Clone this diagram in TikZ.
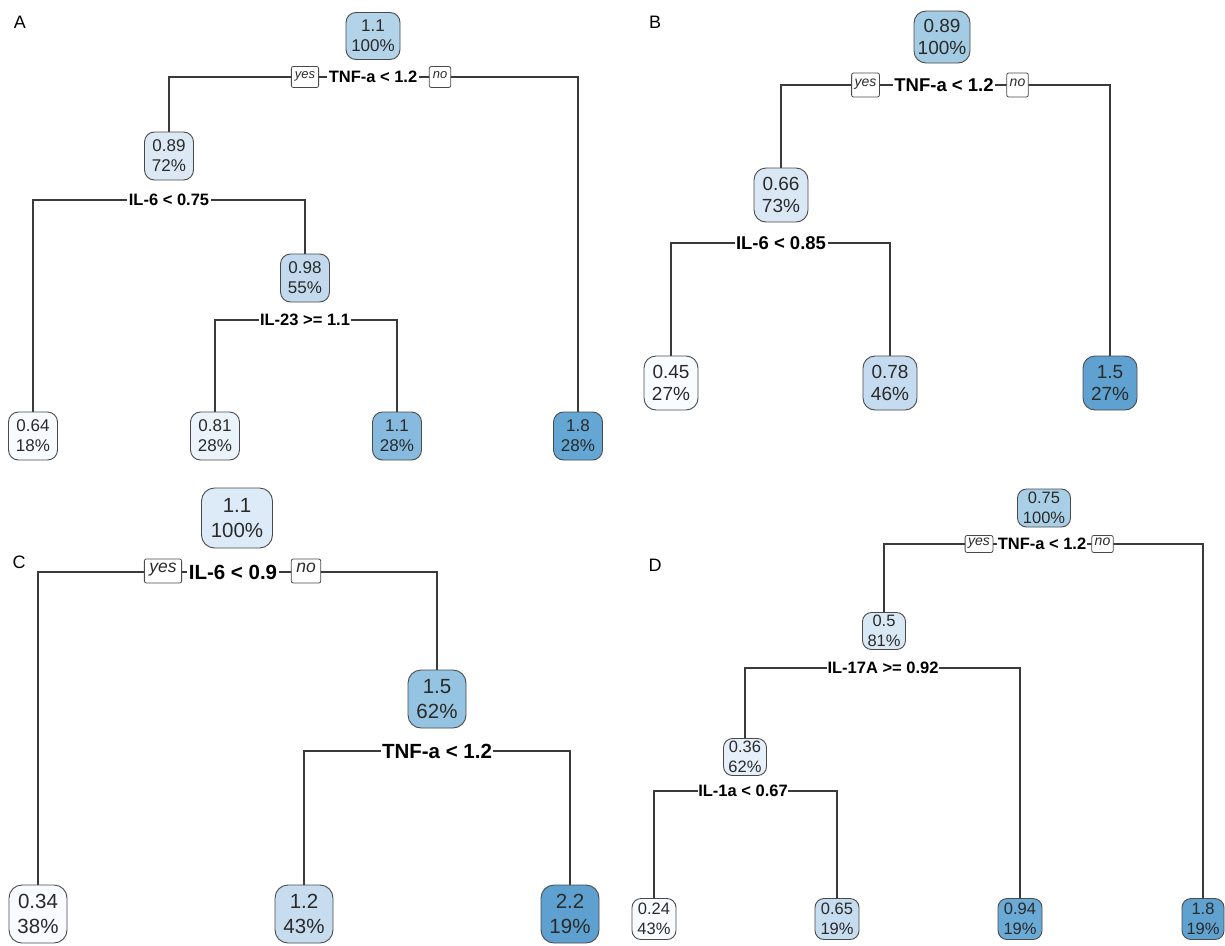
\documentclass[tikz,border=0pt]{standalone}
\usepackage{fontspec}
\setmainfont{Liberation Sans}
\usetikzlibrary{backgrounds}
\definecolor{bordc}{HTML}{4A4A4A}
\definecolor{linec}{HTML}{3A3A3A}
\definecolor{txtc}{HTML}{2A2A2A}
% panel A fills
\definecolor{cA0}{HTML}{B3D3E9}
\definecolor{cA1}{HTML}{DCE9F5}
\definecolor{cA2}{HTML}{C3DAEE}
\definecolor{cA3}{HTML}{F8FBFE}
\definecolor{cA4}{HTML}{EBF3FB}
\definecolor{cA5}{HTML}{86BBDF}
\definecolor{cA6}{HTML}{64A6D4}
% panel B fills
\definecolor{cB0}{HTML}{A3CBE4}
\definecolor{cB1}{HTML}{DAE8F5}
\definecolor{cB2}{HTML}{F9FCFF}
\definecolor{cB3}{HTML}{C5DBEF}
\definecolor{cB4}{HTML}{5FA2D1}
% panel C fills
\definecolor{cC0}{HTML}{DCEBF7}
\definecolor{cC1}{HTML}{94C4E1}
\definecolor{cC2}{HTML}{F8FBFF}
\definecolor{cC3}{HTML}{C7DCEF}
\definecolor{cC4}{HTML}{5EA1D0}
% panel D fills
\definecolor{cD0}{HTML}{A9CFE6}
\definecolor{cD1}{HTML}{D8E8F5}
\definecolor{cD2}{HTML}{E6F0FA}
\definecolor{cD3}{HTML}{F9FCFF}
\definecolor{cD4}{HTML}{C6DCEF}
\definecolor{cD5}{HTML}{6AAAD6}
\definecolor{cD6}{HTML}{5FA2D0}
\tikzset{
  treenode/.style={draw=bordc, line width=0.9pt, align=center, inner sep=0pt, text=txtc},
  nA/.style={treenode, minimum width=49pt, minimum height=48pt, rounded corners=10pt, font=\fontsize{17}{20}\selectfont},
  nB/.style={treenode, minimum width=54pt, minimum height=54pt, rounded corners=12pt, font=\fontsize{19}{22}\selectfont},
  nC/.style={treenode, minimum width=58pt, minimum height=58pt, rounded corners=13pt, font=\fontsize{20.5}{25}\selectfont},
  nD/.style={treenode, minimum width=44pt, minimum height=41pt, rounded corners=9pt, font=\fontsize{16.5}{20}\selectfont},
  splitlab/.style={fill=white, inner xsep=1.5pt, inner ysep=1pt, text=black},
  sA/.style={splitlab, font=\bfseries\fontsize{16.5}{17}\selectfont},
  sB/.style={splitlab, font=\bfseries\fontsize{18.5}{19}\selectfont},
  sC/.style={splitlab, font=\bfseries\fontsize{20.5}{21}\selectfont},
  sD/.style={splitlab, inner xsep=0.5pt, font=\bfseries\fontsize{16.5}{17}\selectfont},
  yn/.style={draw=bordc, fill=white, line width=0.8pt, rounded corners=2pt, inner ysep=0pt, text=txtc, text height=1.15ex, text depth=0.45ex},
  ynA/.style={yn, font=\itshape\fontsize{13}{13}\selectfont, inner xsep=3.5pt, minimum height=21pt},
  ynB/.style={yn, font=\itshape\fontsize{14}{14}\selectfont, inner xsep=3pt, minimum height=24pt},
  ynC/.style={yn, font=\itshape\fontsize{17.5}{17.5}\selectfont, inner xsep=5pt, minimum height=24pt},
  ynD/.style={yn, font=\itshape\fontsize{14}{14}\selectfont, inner xsep=3pt, minimum height=17pt},
  branch/.style={draw=linec, line width=1.1pt},
  plabel/.style={font=\fontsize{18}{18}\selectfont, text=black, inner sep=0pt}
}
\begin{document}
\begin{tikzpicture}[x=1pt,y=-1pt]
\useasboundingbox (0,0) rectangle (1225,945);
% ---------------- Panel A ----------------
\node[plabel] (labA) at (20,22) {A};
\node[nA, fill=cA0, minimum width=54pt, minimum height=47pt] (A0) at (373,36) {1.1\\100\%};
\node[sA] (sA0) at (373,77) {TNF-a < 1.2};
\node[ynA] (yA) at (305,77) {yes};
\node[ynA] (noA) at (440,77) {no};
\node[nA, fill=cA1] (A1) at (169,156) {0.89\\72\%};
\node[sA] (sA1) at (169,200) {IL-6 < 0.75};
\node[nA, fill=cA2] (A2) at (305,278) {0.98\\55\%};
\node[sA] (sA2) at (305,320) {IL-23 >= 1.1};
\node[nA, fill=cA3] (A3) at (33,436) {0.64\\18\%};
\node[nA, fill=cA4] (A4) at (215,436) {0.81\\28\%};
\node[nA, fill=cA5] (A5) at (397,436) {1.1\\28\%};
\node[nA, fill=cA6] (A6) at (578,436) {1.8\\28\%};
% ---------------- Panel B ----------------
\node[plabel] (labB) at (655,22) {B};
\node[nB, fill=cB0, minimum width=56pt, minimum height=52pt] (B0) at (942,37) {0.89\\100\%};
\node[sB] (sB0) at (944,85) {TNF-a < 1.2};
\node[ynB] (yB) at (865.5,85) {yes};
\node[ynB] (noB) at (1017.5,85) {no};
\node[nB, fill=cB1] (B1) at (781,195) {0.66\\73\%};
\node[sB] (sB1) at (781,243) {IL-6 < 0.85};
\node[nB, fill=cB2] (B2) at (671,383) {0.45\\27\%};
\node[nB, fill=cB3] (B3) at (890,383) {0.78\\46\%};
\node[nB, fill=cB4] (B4) at (1110,383) {1.5\\27\%};
% ---------------- Panel C ----------------
\node[plabel] (labC) at (19,562) {C};
\node[nC, fill=cC0, minimum width=71pt, minimum height=60pt] (C0) at (237,518) {1.1\\100\%};
\node[sC] (sC0) at (233,572) {IL-6 < 0.9};
\node[ynC] (yC) at (163,571) {yes};
\node[ynC] (noC) at (306,571) {no};
\node[nC, fill=cC1] (C1) at (437,699) {1.5\\62\%};
\node[sC] (sC1) at (437,751) {TNF-a < 1.2};
\node[nC, fill=cC2] (C2) at (38,914) {0.34\\38\%};
\node[nC, fill=cC3] (C3) at (304,914) {1.2\\43\%};
\node[nC, fill=cC4] (C4) at (570,914) {2.2\\19\%};
% ---------------- Panel D ----------------
\node[plabel] (labD) at (655,565) {D};
\node[nD, fill=cD0, minimum width=53pt, minimum height=38pt] (D0) at (1044,508) {0.75\\100\%};
\node[sD] (sD0) at (1042,544) {TNF-a < 1.2};
\node[ynD] (yD) at (979,544) {yes};
\node[ynD] (noD) at (1102.5,544) {no};
\node[nD, fill=cD1, minimum width=43pt, minimum height=37pt] (D1) at (884,631) {0.5\\81\%};
\node[sD] (sD1) at (883,668) {IL-17A >= 0.92};
\node[nD, fill=cD2, minimum width=43pt, minimum height=37pt] (D2) at (745,757) {0.36\\62\%};
\node[sD] (sD2) at (743,791) {IL-1a < 0.67};
\node[nD, fill=cD3] (D3) at (654,919) {0.24\\43\%};
\node[nD, fill=cD4] (D4) at (837,919) {0.65\\19\%};
\node[nD, fill=cD5] (D5) at (1020,919) {0.94\\19\%};
\node[nD, fill=cD6, minimum width=42pt] (D6) at (1203,919) {1.8\\19\%};
% ---------------- connectors ----------------
\begin{scope}[on background layer]
\fill[white] (0,0) rectangle (1225,945);
\draw[branch] (A1.north) |- (sA0.center) -| (A6.north);
\draw[branch] (A3.north) |- (sA1.center) -| (A2.north);
\draw[branch] (A4.north) |- (sA2.center) -| (A5.north);
\draw[branch] (B1.north) |- (sB0.center) -| (B4.north);
\draw[branch] (B2.north) |- (sB1.center) -| (B3.north);
\draw[branch] (C2.north) |- (sC0.center) -| (C1.north);
\draw[branch] (C3.north) |- (sC1.center) -| (C4.north);
\draw[branch] (D1.north) |- (sD0.center) -| (D6.north);
\draw[branch] (D2.north) |- (sD1.center) -| (D5.north);
\draw[branch] (D3.north) |- (sD2.center) -| (D4.north);
\end{scope}
\end{tikzpicture}
\end{document}
